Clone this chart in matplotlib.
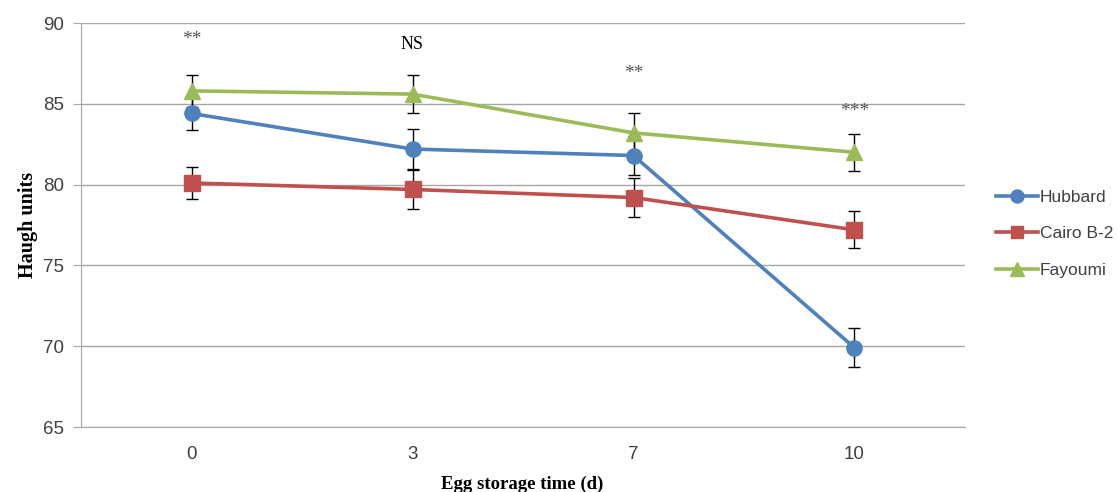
import matplotlib
matplotlib.use("Agg")
import matplotlib.pyplot as plt
from matplotlib.lines import Line2D
import numpy as np

categories = ["0", "3", "7", "10"]
hubbard = [84.4, 82.2, 81.8, 69.9]
hubbard_err = [1.0, 1.25, 1.2, 1.2]
cairo = [80.1, 79.7, 79.2, 77.2]
cairo_err = [1.0, 1.2, 1.2, 1.15]
fayoumi = [85.8, 85.6, 83.2, 82.0]
fayoumi_err = [1.0, 1.2, 1.2, 1.15]
sig_labels = ["**", "NS", "**", "***"]
sig_y = [88.95, 88.7, 86.9, 84.55]
yticks = [65, 70, 75, 80, 85, 90]

fig = plt.figure(figsize=(11.18, 4.92), dpi=100)
ax = fig.add_axes([81/1118, 65/492, (965-81)/1118, (427-23)/492])

x = np.arange(len(categories))
series = [
    ("Hubbard", hubbard, hubbard_err, "#4F81BD", "o", 11),
    ("Cairo B-2", cairo, cairo_err, "#C0504D", "s", 11),
    ("Fayoumi", fayoumi, fayoumi_err, "#9BBB59", "^", 12),
]
handles = []
for name, vals, err, col, mk, ms in series:
    ax.errorbar(x, vals, yerr=err, color=col, lw=2.6, marker=mk, ms=ms,
                mec=col, mfc=col, ecolor="black", elinewidth=1.0, capsize=4,
                capthick=1.0, zorder=3)
    handles.append(Line2D([], [], color=col, lw=2.6, marker=mk, ms=ms * 0.85,
                          mec=col, mfc=col, label=name))

sig_colors = ["#555555", "black", "#555555", "#555555"]
for xi, lab, yv, c in zip(x, sig_labels, sig_y, sig_colors):
    ax.text(xi, yv, lab, ha="center", va="center", fontsize=14 if lab != "NS" else 13,
            family="Liberation Serif", color=c)

ax.set_xlim(-0.5, 3.5)
ax.set_ylim(65, 90)
ax.set_yticks(yticks)
ax.set_xticks(x)
ax.set_xticklabels(categories)
ax.yaxis.grid(True, color="#A6A6A6", lw=1)
ax.set_axisbelow(True)
for s in ["top", "right"]:
    ax.spines[s].set_visible(False)
ax.spines["left"].set_color("#A6A6A6")
ax.spines["bottom"].set_color("#A6A6A6")
ax.tick_params(axis="y", length=6, color="#A6A6A6", labelsize=13.5,
               labelcolor="#404040", pad=6)
ax.tick_params(axis="x", length=0, labelsize=13.5, labelcolor="#404040", pad=14)
for lbl in ax.get_xticklabels() + ax.get_yticklabels():
    lbl.set_family("Liberation Sans")

ax.set_ylabel("Haugh units", family="Liberation Serif", fontweight="bold",
              fontsize=14.5, labelpad=4)
fig.text(522/1118, 1 - 484/492, "Egg storage time (d)", ha="center",
         va="center", family="Liberation Serif", fontweight="bold", fontsize=13.5)

leg = ax.legend(handles=handles, loc="center left", bbox_to_anchor=(1.017, 0.478),
                frameon=False, handlelength=2.45, labelspacing=1.25,
                handletextpad=0.1, prop={"family": "Liberation Sans", "size": 12.5})
for t in leg.get_texts():
    t.set_color("#404040")

fig.savefig("out.png", dpi=100)
